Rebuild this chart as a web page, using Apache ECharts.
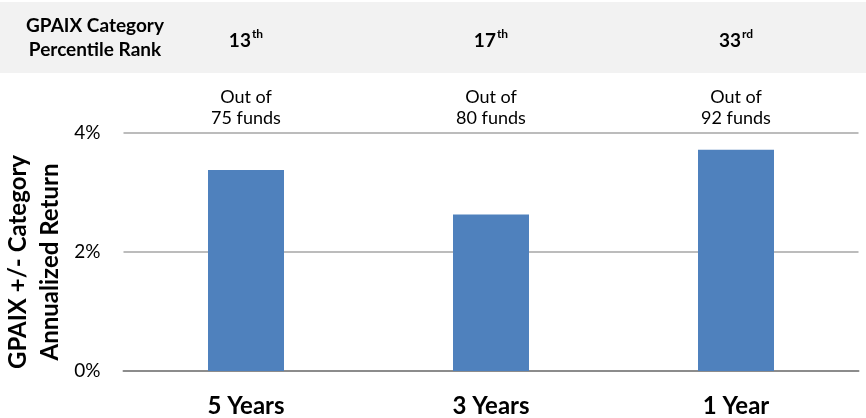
<!DOCTYPE html>
<html><head><meta charset="utf-8">
<script src="https://cdn.jsdelivr.net/npm/echarts@6/dist/echarts.min.js"></script>
<style>html,body{margin:0;padding:0;background:#fff}#c{width:866px;height:418px}</style>
</head><body><div id="c"></div>
<script>
const categories = ['5 Years', '3 Years', '1 Year'];
const values = [3.38, 2.63, 3.72];
const rankNums = ['13', '17', '33'];
const rankSuffix = ['th', 'th', 'rd'];
const fundCounts = [75, 80, 92];
const headerTitle = 'GPAIX Category\nPercentile Rank';
const yTitle = ['GPAIX +/- Category', 'Annualized Return'];

const FONT = 'Lato, "Open Sans", sans-serif';
const chart = echarts.init(document.getElementById('c'), null, {renderer: 'canvas'});
const fundLabels = fundCounts.map(n => 'Out of\n' + n + ' funds');
const rankLabels = rankNums.map((n, i) => n + '|' + rankSuffix[i]);

chart.setOption({
  animation: false,
  backgroundColor: '#fff',
  grid: {left: 123.5, right: 7.5, top: 133, bottom: 45},
  graphic: [
    {type: 'rect', z: -10, shape: {x: 0, y: 2, width: 866, height: 71}, style: {fill: '#f2f2f2'}},
    {type: 'text', x: 95, y: 38, style: {text: headerTitle, font: 'bold 19px ' + FONT, fill: '#000', align: 'center', verticalAlign: 'middle', lineHeight: 24}},
    {type: 'text', x: 18, y: 262, rotation: Math.PI / 2, style: {text: yTitle[0], font: 'bold 24px ' + FONT, fill: '#000', align: 'center', verticalAlign: 'middle'}},
    {type: 'text', x: 50, y: 262, rotation: Math.PI / 2, style: {text: yTitle[1], font: 'bold 24px ' + FONT, fill: '#000', align: 'center', verticalAlign: 'middle'}}
  ],
  xAxis: [
    {
      type: 'category', data: categories, position: 'bottom',
      axisLine: {lineStyle: {color: '#8c8c8c', width: 2}},
      axisTick: {show: false},
      axisLabel: {margin: 23, color: '#000', fontFamily: FONT, fontWeight: 'bold', fontSize: 24}
    },
    {
      type: 'category', data: fundLabels, position: 'top',
      axisLine: {show: false}, axisTick: {show: false},
      axisLabel: {margin: 4.5, color: '#000', fontFamily: FONT, fontSize: 18, lineHeight: 21}
    },
    {
      type: 'category', data: rankLabels, position: 'top', offset: 94,
      axisLine: {show: false}, axisTick: {show: false},
      axisLabel: {
        margin: 0, verticalAlign: 'middle',
        formatter: v => { const p = v.split('|'); return '{n|' + p[0] + '}{s|' + p[1] + '}'; },
        rich: {
          n: {fontFamily: FONT, fontWeight: 'bold', fontSize: 19, color: '#000', verticalAlign: 'bottom', lineHeight: 22},
          s: {fontFamily: FONT, fontWeight: 'bold', fontSize: 12, color: '#000', verticalAlign: 'top', lineHeight: 22, padding: [0, 0, 10, 1]}
        }
      }
    }
  ],
  yAxis: {
    type: 'value', min: 0, max: 4, interval: 2,
    axisLine: {show: false}, axisTick: {show: false},
    axisLabel: {margin: 23, color: '#000', fontFamily: FONT, fontSize: 19, formatter: v => v + '%'},
    splitLine: {lineStyle: {color: '#a6a6a6', width: 1.5}}
  },
  series: [{
    type: 'bar', data: values, xAxisIndex: 0, barWidth: 76,
    itemStyle: {color: '#4f81bd'}
  }]
});
</script></body></html>
